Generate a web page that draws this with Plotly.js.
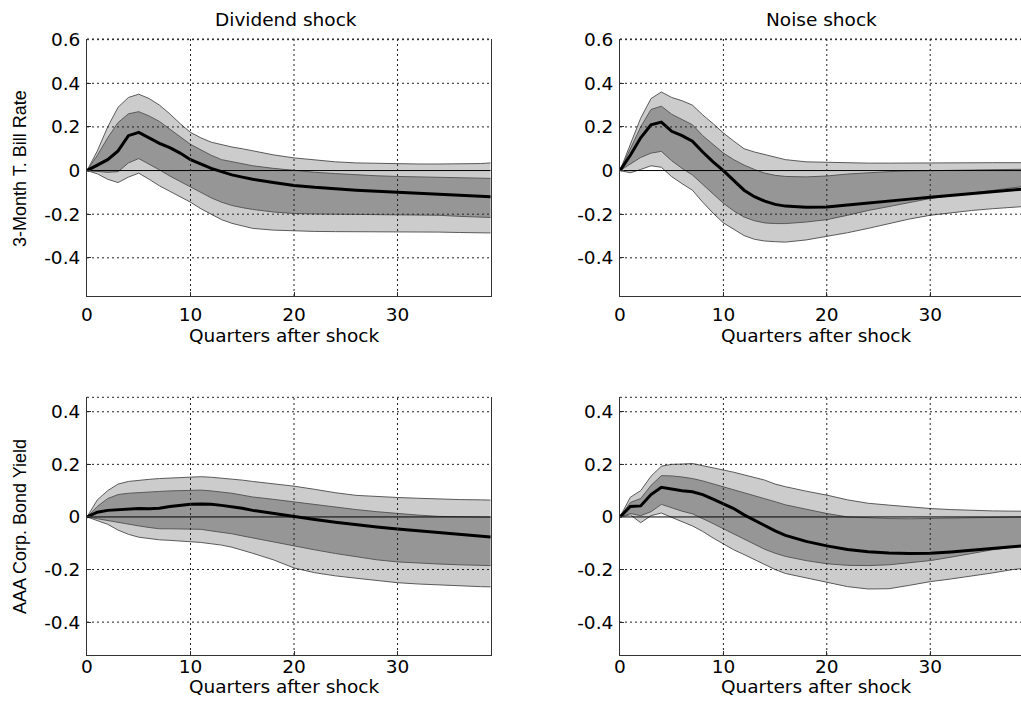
<!DOCTYPE html>
<html>
<head>
<meta charset="utf-8">
<script src="https://cdn.plot.ly/plotly-3.0.1.min.js"></script>
<style>html,body{margin:0;padding:0;background:#fff;}#chart{width:1021px;height:707px;}</style>
</head>
<body>
<div id="chart"></div>
<script>
// ---- data ----
const quarters = [0,1,2,3,4,5,6,7,8,9,10,11,12,13,14,15,16,18,20,22,24,26,28,30,32,34,36,38,39];

const panelTitles = ["Dividend shock", "Noise shock"];
const rowTitles = ["3-Month T. Bill Rate", "AAA Corp. Bond Yield"];
const xAxisTitle = "Quarters after shock";
const xTicks = [0, 10, 20, 30];
const xTickText = ["0", "10", "20", "30"];
const yTicksTop = [-0.4, -0.2, 0, 0.2, 0.4, 0.6];
const yTickTextTop = ["-0.4", "-0.2", "0", "0.2", "0.4", "0.6"];
const yTicksBottom = [-0.4, -0.2, 0, 0.2, 0.4];
const yTickTextBottom = ["-0.4", "-0.2", "0", "0.2", "0.4"];

// Top-left: Dividend shock, 3-Month T. Bill Rate
const tbDivMedian   = [0,0.025,0.05,0.09,0.16,0.175,0.15,0.125,0.105,0.08,0.05,0.03,0.01,-0.005,-0.02,-0.03,-0.04,-0.055,-0.068,-0.077,-0.085,-0.09,-0.095,-0.1,-0.105,-0.11,-0.112,-0.118,-0.12];
const tbDivOuterUp  = [0,0.09,0.2,0.29,0.335,0.35,0.33,0.3,0.26,0.215,0.175,0.15,0.13,0.118,0.108,0.1,0.09,0.072,0.058,0.048,0.04,0.035,0.033,0.03,0.03,0.03,0.03,0.032,0.035];
const tbDivInnerUp  = [0,0.07,0.15,0.22,0.26,0.27,0.25,0.225,0.19,0.155,0.12,0.095,0.07,0.05,0.04,0.03,0.022,0.01,0.0,-0.008,-0.014,-0.02,-0.024,-0.027,-0.029,-0.031,-0.033,-0.035,-0.036];
const tbDivInnerLo  = [0,-0.005,-0.008,-0.005,0.035,0.055,0.03,0.003,-0.025,-0.05,-0.075,-0.1,-0.125,-0.145,-0.16,-0.17,-0.178,-0.19,-0.197,-0.199,-0.2,-0.2,-0.2,-0.2,-0.202,-0.205,-0.21,-0.214,-0.215];
const tbDivOuterLo  = [0,-0.015,-0.04,-0.055,-0.03,-0.012,-0.04,-0.07,-0.095,-0.12,-0.145,-0.175,-0.2,-0.225,-0.242,-0.255,-0.265,-0.273,-0.277,-0.279,-0.28,-0.28,-0.28,-0.28,-0.28,-0.282,-0.284,-0.286,-0.286];

// Top-right: Noise shock, 3-Month T. Bill Rate
const tbNoiMedian   = [0,0.07,0.15,0.21,0.222,0.18,0.16,0.135,0.085,0.04,0.0,-0.045,-0.09,-0.12,-0.14,-0.155,-0.163,-0.168,-0.167,-0.158,-0.148,-0.14,-0.131,-0.122,-0.113,-0.104,-0.095,-0.088,-0.085];
const tbNoiOuterUp  = [0,0.12,0.24,0.33,0.36,0.335,0.32,0.3,0.255,0.215,0.172,0.135,0.1,0.085,0.073,0.062,0.05,0.04,0.037,0.035,0.034,0.034,0.035,0.035,0.036,0.036,0.036,0.036,0.036];
const tbNoiInnerUp  = [0,0.1,0.2,0.28,0.295,0.258,0.235,0.21,0.16,0.12,0.08,0.05,0.025,0.005,-0.012,-0.022,-0.027,-0.029,-0.025,-0.016,-0.01,-0.005,-0.002,0.0,0.002,0.003,0.004,0.005,0.006];
const tbNoiInnerLo  = [0,0.03,0.06,0.08,0.088,0.045,0.01,-0.02,-0.062,-0.105,-0.15,-0.185,-0.213,-0.23,-0.24,-0.243,-0.243,-0.236,-0.225,-0.205,-0.183,-0.165,-0.148,-0.128,-0.115,-0.102,-0.09,-0.078,-0.073];
const tbNoiOuterLo  = [0,-0.01,0.005,0.022,0.015,-0.028,-0.06,-0.09,-0.145,-0.195,-0.24,-0.27,-0.298,-0.315,-0.323,-0.326,-0.328,-0.318,-0.302,-0.285,-0.265,-0.243,-0.222,-0.205,-0.193,-0.183,-0.175,-0.168,-0.165];

// Bottom-left: Dividend shock, AAA Corp. Bond Yield
const aaDivMedian   = [0,0.018,0.025,0.028,0.031,0.032,0.031,0.033,0.04,0.045,0.048,0.049,0.048,0.044,0.039,0.033,0.025,0.013,0.0,-0.01,-0.02,-0.03,-0.038,-0.046,-0.053,-0.06,-0.067,-0.073,-0.076];
const aaDivOuterUp  = [0,0.065,0.1,0.125,0.135,0.14,0.143,0.146,0.148,0.151,0.153,0.153,0.151,0.148,0.144,0.14,0.135,0.126,0.117,0.105,0.092,0.082,0.077,0.074,0.071,0.068,0.066,0.065,0.064];
const aaDivInnerUp  = [0,0.04,0.07,0.085,0.09,0.093,0.095,0.097,0.099,0.1,0.102,0.102,0.099,0.095,0.09,0.083,0.076,0.067,0.057,0.047,0.037,0.028,0.02,0.013,0.007,0.002,0.0,-0.001,-0.001];
const aaDivInnerLo  = [0,-0.007,-0.014,-0.022,-0.028,-0.034,-0.04,-0.045,-0.045,-0.045,-0.045,-0.047,-0.053,-0.058,-0.064,-0.072,-0.08,-0.095,-0.111,-0.125,-0.139,-0.152,-0.163,-0.171,-0.176,-0.179,-0.182,-0.184,-0.185];
const aaDivOuterLo  = [0,-0.013,-0.028,-0.05,-0.066,-0.077,-0.083,-0.087,-0.089,-0.091,-0.093,-0.097,-0.102,-0.107,-0.115,-0.126,-0.138,-0.163,-0.194,-0.212,-0.224,-0.233,-0.242,-0.25,-0.255,-0.259,-0.262,-0.265,-0.266];

// Bottom-right: Noise shock, AAA Corp. Bond Yield
const aaNoiMedian   = [0,0.04,0.042,0.085,0.113,0.106,0.1,0.096,0.085,0.068,0.051,0.032,0.008,-0.013,-0.034,-0.053,-0.07,-0.093,-0.11,-0.124,-0.132,-0.137,-0.139,-0.138,-0.133,-0.127,-0.12,-0.113,-0.11];
const aaNoiOuterUp  = [0,0.075,0.1,0.155,0.193,0.2,0.201,0.203,0.195,0.187,0.178,0.17,0.16,0.15,0.14,0.125,0.115,0.098,0.083,0.065,0.052,0.045,0.038,0.032,0.028,0.025,0.023,0.022,0.022];
const aaNoiInnerUp  = [0,0.055,0.07,0.12,0.157,0.156,0.152,0.146,0.137,0.126,0.115,0.104,0.093,0.082,0.07,0.058,0.046,0.03,0.013,0.0,-0.004,-0.006,-0.007,-0.006,-0.004,-0.003,-0.001,0.0,0.0];
const aaNoiInnerLo  = [0,0.013,0.005,0.02,0.048,0.035,0.022,0.012,-0.005,-0.025,-0.045,-0.065,-0.085,-0.105,-0.123,-0.138,-0.15,-0.166,-0.178,-0.184,-0.185,-0.182,-0.175,-0.166,-0.153,-0.138,-0.125,-0.115,-0.11];
const aaNoiOuterLo  = [0,0.008,-0.022,0.005,0.015,0.0,-0.018,-0.034,-0.055,-0.08,-0.104,-0.125,-0.143,-0.162,-0.182,-0.2,-0.215,-0.232,-0.248,-0.265,-0.274,-0.273,-0.26,-0.246,-0.236,-0.225,-0.213,-0.2,-0.196];

// ---- build ----
const W = 1021, H = 707;
const LIGHT = "#cccccc", DARK = "#969696", EDGE = "#5a5a5a";
const FONT = "DejaVu Sans, Verdana, sans-serif";
const FONT_Y = "Liberation Sans, Arial, Helvetica, sans-serif";
const FS = 18.5;

const panels = [
  {ax: "", med: tbDivMedian, ou: tbDivOuterUp, iu: tbDivInnerUp, il: tbDivInnerLo, ol: tbDivOuterLo},
  {ax: "2", med: tbNoiMedian, ou: tbNoiOuterUp, iu: tbNoiInnerUp, il: tbNoiInnerLo, ol: tbNoiOuterLo},
  {ax: "3", med: aaDivMedian, ou: aaDivOuterUp, iu: aaDivInnerUp, il: aaDivInnerLo, ol: aaDivOuterLo},
  {ax: "4", med: aaNoiMedian, ou: aaNoiOuterUp, iu: aaNoiInnerUp, il: aaNoiInnerLo, ol: aaNoiOuterLo}
];

const traces = [];
panels.forEach(p => {
  const xa = "x" + p.ax, ya = "y" + p.ax;
  const base = {x: quarters, xaxis: xa, yaxis: ya, mode: "lines", hoverinfo: "skip", showlegend: false};
  traces.push(Object.assign({}, base, {y: p.ol, line: {color: EDGE, width: 1}}));
  traces.push(Object.assign({}, base, {y: p.ou, line: {color: EDGE, width: 1}, fill: "tonexty", fillcolor: LIGHT}));
  traces.push(Object.assign({}, base, {y: p.il, line: {color: EDGE, width: 1}}));
  traces.push(Object.assign({}, base, {y: p.iu, line: {color: EDGE, width: 1}, fill: "tonexty", fillcolor: DARK}));
  traces.push(Object.assign({}, base, {x: [quarters[0], quarters[quarters.length-1]], y: [0, 0], line: {color: "#000", width: 1}}));
  traces.push(Object.assign({}, base, {y: p.med, line: {color: "#000", width: 3}}));
});

const xDomL = [87/W, 490.7/W], xDomR = [620/W, 1];
const yDomT = [1-296/H, 1-39/H], yDomB = [1-655/H, 1-397.3/H];

function xax(dom, range, anchor, standoff) {
  return {domain: dom, range: range, anchor: anchor, tickmode: "array", tickvals: xTicks, ticktext: xTickText,
    ticks: "inside", ticklen: 4, tickcolor: "#333", showgrid: false, zeroline: false,
    showline: true, linecolor: "#333", linewidth: 1, mirror: false,
    tickfont: {family: FONT, size: FS, color: "#000"}, ticklabelstandoff: standoff, fixedrange: true};
}
function yax(dom, range, anchor, tv, tt, mirror) {
  return {domain: dom, range: range, anchor: anchor, tickmode: "array", tickvals: tv, ticktext: tt,
    ticks: "inside", ticklen: 4, tickcolor: "#333", showgrid: false, zeroline: false,
    showline: true, linecolor: "#333", linewidth: 1, mirror: mirror,
    tickfont: {family: FONT, size: FS, color: "#000"}, ticklabelstandoff: 2, fixedrange: true};
}

const rangeTop = [-0.575, 0.603], rangeBot = [-0.525, 0.455];
const layout = {
  width: W, height: H, margin: {l: 0, r: 0, t: 0, b: 0}, paper_bgcolor: "#fff", plot_bgcolor: "#fff",
  font: {family: FONT, size: FS, color: "#000"},
  xaxis:  xax(xDomL, [0, 39], "y", 2),
  xaxis2: xax(xDomR, [0, 38.78], "y2", 2),
  xaxis3: xax(xDomL, [0, 39], "y3", -5),
  xaxis4: xax(xDomR, [0, 38.78], "y4", -5),
  yaxis:  yax(yDomT, rangeTop, "x", yTicksTop, yTickTextTop, true),
  yaxis2: yax(yDomT, rangeTop, "x2", yTicksTop, yTickTextTop, false),
  yaxis3: yax(yDomB, rangeBot, "x3", yTicksBottom, yTickTextBottom, true),
  yaxis4: yax(yDomB, rangeBot, "x4", yTicksBottom, yTickTextBottom, false),
  shapes: [], annotations: []
};

// dotted grid lines above traces, plus dotted top border
const gridLine = {color: "#222", width: 1, dash: "2px,3px"};
panels.forEach((p, i) => {
  const xa = "x" + p.ax, ya = "y" + p.ax;
  const yt = i < 2 ? yTicksTop : yTicksBottom;
  xTicks.filter(v => v > 0).forEach(v => layout.shapes.push({type: "line", layer: "above", xref: xa, yref: ya + " domain", x0: v, x1: v, y0: 0, y1: 1, line: gridLine}));
  yt.filter(v => v !== 0).forEach(v => layout.shapes.push({type: "line", layer: "above", xref: xa + " domain", yref: ya, x0: 0, x1: 1, y0: v, y1: v, line: gridLine}));
  layout.shapes.push({type: "line", layer: "above", xref: xa + " domain", yref: ya + " domain", x0: 0, x1: 1, y0: 1, y1: 1, line: gridLine});
});

function ann(text, px, py, angle, fam, size) {
  return {text: text, xref: "paper", yref: "paper", x: px / W, y: 1 - py / H, xanchor: "center", yanchor: "middle",
    showarrow: false, textangle: angle || 0, font: {family: fam || FONT, size: size || FS, color: "#000"}};
}
layout.annotations.push(ann(panelTitles[0], 286, 20));
layout.annotations.push(ann(panelTitles[1], 821, 20));
layout.annotations.push(ann(xAxisTitle, 284, 335));
layout.annotations.push(ann(xAxisTitle, 816, 335));
layout.annotations.push(ann(xAxisTitle, 284, 686));
layout.annotations.push(ann(xAxisTitle, 816, 686));
layout.annotations.push(ann(rowTitles[0], 20, 169, -90, FONT_Y, 18));
layout.annotations.push(ann(rowTitles[1], 20, 527, -90, FONT_Y, 18));

Plotly.newPlot("chart", traces, layout, {staticPlot: true, displayModeBar: false});
</script>
</body>
</html>
